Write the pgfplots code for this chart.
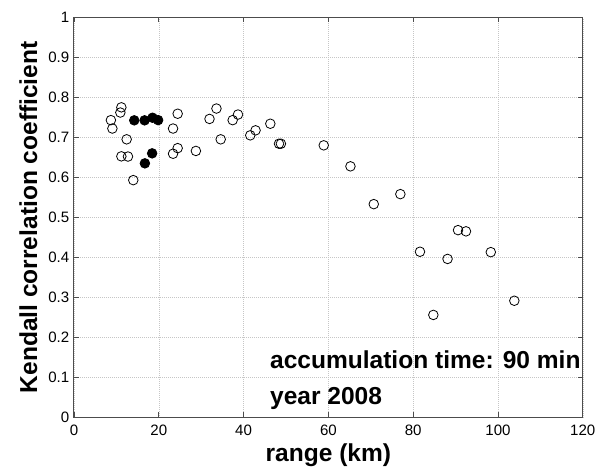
\documentclass[border=0pt]{standalone}
\usepackage{pgfplots}
\pgfplotsset{compat=1.18}
\usepackage{fontspec}
\setmainfont{Liberation Sans}
\begin{document}
\begin{tikzpicture}
\begin{axis}[
  scale only axis, width=381.6pt, height=300pt,
  xmin=0, xmax=120, ymin=0, ymax=1,
  xtick={0,20,40,60,80,100,120},
  ytick={0,0.1,0.2,0.3,0.4,0.5,0.6,0.7,0.8,0.9,1},
  yticklabels={0,0.1,0.2,0.3,0.4,0.5,0.6,0.7,0.8,0.9,1},
  grid=major,
  grid style={dash pattern=on 0.5pt off 1pt, gray!45, line width=0.45pt},
  tick align=inside, tick pos=both, major tick length=3.75pt,
  axis line style={black!70, line width=0.75pt},
  tick style={black!70, line width=0.6pt},
  ticklabel style={font=\fontsize{11.3}{12}\selectfont},
  xticklabel style={yshift=-2.5pt},
  /pgf/number format/assume math mode=true,
  xlabel={range (km)},
  ylabel={Kendall correlation coefficient},
  label style={font=\bfseries\fontsize{18.4}{20}\selectfont},
  xlabel style={at={(rel axis cs:0.5,-0.111)}, anchor=base},
  ylabel style={at={(rel axis cs:-0.0727,0.5)}, anchor=base},
]
\addplot[only marks, mark=o, mark size=3.6pt, mark options={black, line width=0.6pt}] coordinates {
(8.7,0.743) (9.05,0.722) (11.17,0.775) (10.93,0.762) (12.42,0.695)
(11.17,0.6525) (12.73,0.652) (13.98,0.593) (24.45,0.759) (23.36,0.722)
(24.45,0.673) (23.36,0.659) (28.75,0.666) (31.96,0.746) (33.6,0.772)
(34.6,0.695) (37.42,0.743) (38.68,0.757) (41.57,0.705) (42.82,0.7175)
(46.3,0.734) (48.35,0.684) (48.8,0.684) (58.9,0.680) (65.2,0.6275)
(70.7,0.533) (76.97,0.558) (81.6,0.414) (84.75,0.256) (88.1,0.396)
(90.57,0.468) (92.45,0.465) (98.3,0.413) (103.85,0.2915)
};
\addplot[only marks, mark=*, mark size=3.6pt, mark options={black, fill=black, line width=0.6pt}] coordinates {
(14.21,0.7425) (16.65,0.7425) (18.52,0.749) (19.84,0.743) (18.43,0.66) (16.72,0.635)
};
\node[anchor=base west, inner sep=0pt, font=\bfseries\fontsize{18.4}{20}\selectfont] at (axis cs:46.2,0.121) {accumulation time: 90 min};
\node[anchor=base west, inner sep=0pt, font=\bfseries\fontsize{18.4}{20}\selectfont] at (axis cs:46.2,0.033) {year 2008};
\coordinate (bl) at (rel axis cs:0,0);
\coordinate (tr) at (rel axis cs:1,1);
\end{axis}
\pgfresetboundingbox
\path ([shift={(-55.5pt,-38.8pt)}]bl) rectangle ([shift={(15.15pt,13pt)}]tr);
\end{tikzpicture}
\end{document}
